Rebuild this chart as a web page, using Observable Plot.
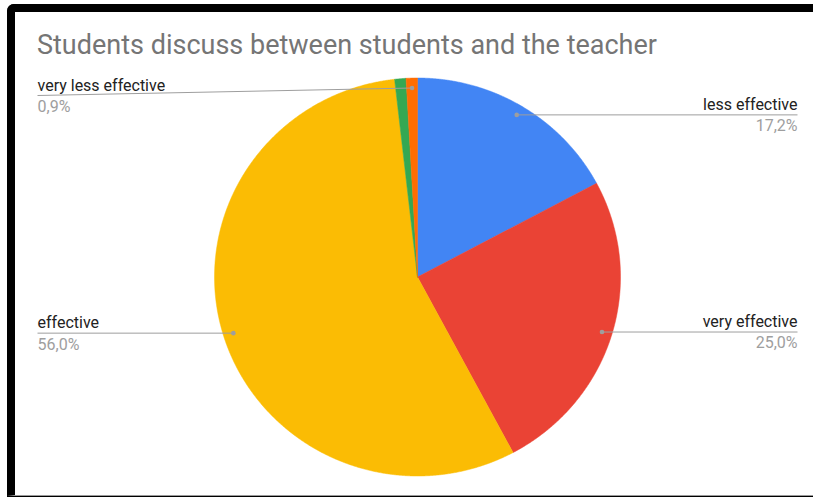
<!DOCTYPE html>
<html><head><meta charset="utf-8">
<script src="https://cdn.jsdelivr.net/npm/d3@7"></script>
<script src="https://cdn.jsdelivr.net/npm/@observablehq/plot@0.6"></script>
<style>
html,body{margin:0;padding:0;background:#fff;overflow:hidden;width:813px;height:497px;}
#frame{position:absolute;left:7px;top:4px;width:830px;height:483px;border-top:8px solid #000;border-left:8px solid #000;border-bottom:1px solid #9a9a9a;border-top-left-radius:7px;background:#fff;}
#strip{position:absolute;left:7px;top:496px;width:806px;height:1px;background:#000;}
#title{position:absolute;left:22px;top:20px;font-family:Roboto,sans-serif;font-size:27px;line-height:27px;color:#757575;white-space:nowrap;}
#chart{position:absolute;left:0;top:0;}
</style>
</head><body>
<div id="frame"><div id="chart"></div><div id="title">Students discuss between students and the teacher</div></div>
<div id="strip"></div>
<script>
// Data (percentages), in slice order clockwise from 12 o'clock
const categories = ["less effective", "very effective", "effective", "other", "very less effective"];
const values = [17.2, 25.0, 56.0, 0.9, 0.9];
const colors = ["#4285f4", "#ea4335", "#fbbc04", "#34a853", "#ff6d01"];
const labeled = ["less effective", "very effective", "effective", "very less effective"];

// Layout constants
const W = 798, H = 483;
const cx = 402, cy = 264.5, rx = 203, ry = 199;
const labelHalf = 380;                 // distance from centre to label edges (px)
const E = labelHalf / rx;              // label edge in x-domain units
const dotR = 0.95;                     // label anchor radius (fraction)
const labelTop = (cy - 83) / ry;       // highest allowed label line (domain units)

const rows = categories.map((name, i) => ({name, value: values[i]}));
const arcs = d3.pie().sort(null).value(d => d.value)(rows);

const pts = [];
for (const a of arcs) {
  const name = a.data.name;
  pts.push({name, x: 0, y: 0});
  const n = Math.max(2, Math.ceil((a.endAngle - a.startAngle) / 0.005));
  for (let i = 0; i <= n; i++) {
    const t = a.startAngle + (a.endAngle - a.startAngle) * i / n;
    pts.push({name, x: Math.sin(t), y: Math.cos(t)});
  }
  pts.push({name, x: 0, y: 0});
}

const fmt = v => v.toFixed(1).replace(".", ",") + "%";
const labels = arcs.filter(a => labeled.includes(a.data.name)).map(a => {
  const m = (a.startAngle + a.endAngle) / 2;
  const dx = dotR * Math.sin(m), dy = dotR * Math.cos(m);
  const side = dx < 0 ? -1 : 1;
  return {name: a.data.name, pct: fmt(a.data.value), dx, dy, ly: Math.min(dy, labelTop),
          lx: side * E, anchor: side < 0 ? "start" : "end"};
});
const left = labels.filter(d => d.anchor === "start");
const right = labels.filter(d => d.anchor === "end");

const fs = 16;
const chart = Plot.plot({
  width: W, height: H,
  x: {domain: [-1, 1], range: [cx - rx, cx + rx], axis: null},
  y: {domain: [-1, 1], range: [cy + ry, cy - ry], axis: null},
  color: {domain: categories, range: colors},
  style: {fontFamily: "Roboto, sans-serif", background: "transparent"},
  marks: [
    Plot.line(pts, {x: "x", y: "y", z: "name", fill: "name", stroke: "name", strokeWidth: 0.5, curve: "linear"}),
    Plot.link(labels, {x1: "dx", y1: "dy", x2: "lx", y2: "ly", stroke: "#9e9e9e", strokeWidth: 1}),
    Plot.dot(labels, {x: "dx", y: "dy", r: 2.3, fill: "#9e9e9e", stroke: "none"}),
    Plot.text(left, {x: "lx", y: "ly", text: "name", textAnchor: "start", lineAnchor: "bottom", dy: -5, fontSize: fs, fill: "#222"}),
    Plot.text(left, {x: "lx", y: "ly", text: "pct", textAnchor: "start", lineAnchor: "top", dy: 5, fontSize: fs, fill: "#9e9e9e"}),
    Plot.text(right, {x: "lx", y: "ly", text: "name", textAnchor: "end", lineAnchor: "bottom", dy: -5, fontSize: fs, fill: "#222"}),
    Plot.text(right, {x: "lx", y: "ly", text: "pct", textAnchor: "end", lineAnchor: "top", dy: 5, fontSize: fs, fill: "#9e9e9e"})
  ]
});
document.getElementById("chart").appendChild(chart);
</script>
</body></html>
